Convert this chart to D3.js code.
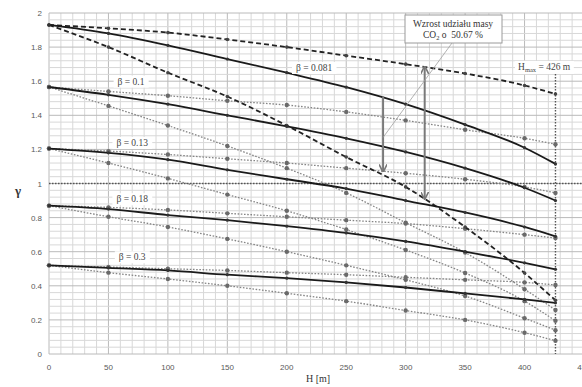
<!DOCTYPE html>
<html>
<head>
<meta charset="utf-8">
<script src="https://cdn.jsdelivr.net/npm/d3@7"></script>
<style>
  html, body { margin: 0; padding: 0; background: #fff; }
  svg { display: block; }
</style>
</head>
<body>
<svg id="chart" width="582" height="387"></svg>
<script>
// H [m] at which the values were read
const H = [0, 50, 100, 150, 200, 250, 300, 350, 400, 426];

// beta = 0.081
const b081Upper = [1.93, 1.91, 1.885, 1.845, 1.80, 1.75, 1.70, 1.645, 1.575, 1.525];
const b081 = [1.93, 1.88, 1.81, 1.73, 1.65, 1.565, 1.465, 1.345, 1.21, 1.115];
const b081Lower = [1.93, 1.80, 1.65, 1.51, 1.34, 1.155, 0.98, 0.745, 0.475, 0.315];
// beta = 0.1
const b010Upper = [1.566, 1.54, 1.515, 1.485, 1.46, 1.42, 1.37, 1.315, 1.265, 1.23];
const b010 = [1.566, 1.52, 1.465, 1.40, 1.335, 1.265, 1.185, 1.09, 0.975, 0.90];
const b010Lower = [1.566, 1.455, 1.34, 1.22, 1.09, 0.945, 0.77, 0.595, 0.38, 0.258];
// beta = 0.13
const b013Upper = [1.205, 1.19, 1.17, 1.145, 1.12, 1.09, 1.06, 1.025, 0.98, 0.945];
const b013 = [1.205, 1.18, 1.14, 1.08, 1.025, 0.97, 0.90, 0.83, 0.745, 0.69];
const b013Lower = [1.205, 1.12, 1.03, 0.935, 0.84, 0.73, 0.61, 0.475, 0.31, 0.195];
// beta = 0.18
const b018Upper = [0.87, 0.86, 0.845, 0.825, 0.805, 0.785, 0.765, 0.735, 0.70, 0.68];
const b018 = [0.87, 0.85, 0.815, 0.785, 0.75, 0.71, 0.66, 0.60, 0.535, 0.497];
const b018Lower = [0.87, 0.805, 0.745, 0.675, 0.60, 0.52, 0.435, 0.34, 0.21, 0.14];
// beta = 0.3
const b030Upper = [0.52, 0.51, 0.50, 0.49, 0.477, 0.465, 0.45, 0.435, 0.42, 0.405];
const b030 = [0.52, 0.505, 0.49, 0.465, 0.445, 0.42, 0.39, 0.355, 0.32, 0.30];
const b030Lower = [0.52, 0.477, 0.44, 0.40, 0.356, 0.31, 0.255, 0.20, 0.125, 0.078];

const xTicks = [0, 50, 100, 150, 200, 250, 300, 350, 400, 450];
const yTicks = [0, 0.2, 0.4, 0.6, 0.8, 1, 1.2, 1.4, 1.6, 1.8, 2];

const betaLabels = [
  { text: "β = 0.081", h: 223, g: 1.66 },
  { text: "β = 0.1", h: 69, g: 1.58 },
  { text: "β = 0.13", h: 70, g: 1.22 },
  { text: "β = 0.18", h: 70, g: 0.89 },
  { text: "β = 0.3", h: 70, g: 0.55 }
];

const H_MAX = 426;
const arrows = [
  { h: 281, from: 1.51, to: 1.07, both: false },
  { h: 316, from: 0.91, to: 1.685, both: true }
];
const note = ["Wzrost udziału masy", "CO", "2", " o\u00a0\u00a050.67 %"];

const series = [
  { v: b010Upper, kind: "dot" }, { v: b010Lower, kind: "dot" },
  { v: b013Upper, kind: "dot" }, { v: b013Lower, kind: "dot" },
  { v: b018Upper, kind: "dot" }, { v: b018Lower, kind: "dot" },
  { v: b030Upper, kind: "dot" }, { v: b030Lower, kind: "dot" },
  { v: b081Upper, kind: "dash" }, { v: b081Lower, kind: "dash" },
  { v: b081, kind: "solid" }, { v: b010, kind: "solid" },
  { v: b013, kind: "solid" }, { v: b018, kind: "solid" },
  { v: b030, kind: "solid" }
];

const SERIF = "'Liberation Serif','DejaVu Serif',serif";
const SANS = "'Liberation Sans','DejaVu Sans',sans-serif";

const svg = d3.select("#chart");
const x = d3.scaleLinear().domain([0, 450]).range([49, 584]);
const y = d3.scaleLinear().domain([0, 2]).range([354, 13]);

// grid
const grid = svg.append("g");
grid.selectAll("line.vmin").data(d3.range(0, 451, 10)).enter().append("line")
  .attr("x1", d => x(d)).attr("x2", d => x(d)).attr("y1", y(0)).attr("y2", y(2))
  .attr("stroke", d => d % 50 === 0 ? "#bababa" : "#d8d8d8").attr("stroke-width", 1);
grid.selectAll("line.hmin").data(d3.range(0, 51).map(i => i * 0.04)).enter().append("line")
  .attr("x1", x(0)).attr("x2", x(450)).attr("y1", d => y(d)).attr("y2", d => y(d))
  .attr("stroke", (d, i) => i % 5 === 0 ? "#bababa" : "#d8d8d8").attr("stroke-width", 1);

// tick labels
svg.append("g").selectAll("text").data(xTicks).enter().append("text")
  .attr("x", d => x(d)).attr("y", 370).attr("text-anchor", "middle")
  .attr("font-family", SANS).attr("font-size", 8).attr("fill", "#595959")
  .text(d => d);
svg.append("g").selectAll("text").data(yTicks).enter().append("text")
  .attr("x", 42).attr("y", d => y(d) + 3).attr("text-anchor", "end")
  .attr("font-family", SANS).attr("font-size", 8).attr("fill", "#595959")
  .text(d => d);

svg.append("text").attr("x", 18).attr("y", 195).attr("text-anchor", "middle")
  .attr("font-family", SERIF).attr("font-size", 13).attr("font-weight", "bold")
  .attr("fill", "#333").text("γ");
svg.append("text").attr("x", 318).attr("y", 382).attr("text-anchor", "middle")
  .attr("font-family", SERIF).attr("font-size", 10).attr("fill", "#333").text("H [m]");

// gamma = 1 and H max
svg.append("line").attr("x1", x(0)).attr("x2", x(450)).attr("y1", y(1)).attr("y2", y(1))
  .attr("stroke", "#555").attr("stroke-width", 1.4).attr("stroke-dasharray", "1.5,1.5");
svg.append("line").attr("x1", x(H_MAX)).attr("x2", x(H_MAX)).attr("y1", 74).attr("y2", y(0))
  .attr("stroke", "#555").attr("stroke-width", 1.4).attr("stroke-dasharray", "1.5,1.5");

// curves
const line = d3.line().x((d, i) => x(H[i])).y(d => y(d)).curve(d3.curveMonotoneX);
const STYLE = {
  dot: { stroke: "#858585", width: 1.3, dash: "1.6,1.6", r: 2.2, fill: "#6a6a6a" },
  dash: { stroke: "#222", width: 1.8, dash: "5,3", r: 1.8, fill: "#444" },
  solid: { stroke: "#1a1a1a", width: 1.8, dash: null, r: 1.6, fill: "#333" }
};
series.forEach(s => {
  const st = STYLE[s.kind];
  svg.append("path").datum(s.v).attr("d", line).attr("fill", "none")
    .attr("stroke", st.stroke).attr("stroke-width", st.width)
    .attr("stroke-dasharray", st.dash);
  svg.append("g").selectAll("circle").data(s.v).enter().append("circle")
    .attr("cx", (d, i) => x(H[i])).attr("cy", d => y(d)).attr("r", st.r)
    .attr("fill", st.fill);
});

// beta labels
betaLabels.forEach(b => {
  const t = svg.append("text").attr("x", x(b.h)).attr("y", y(b.g)).attr("text-anchor", "middle")
    .attr("font-family", SERIF).attr("font-size", 9.5).attr("fill", "#444").text(b.text);
  const bb = t.node().getBBox();
  svg.insert("rect", () => t.node()).attr("x", bb.x - 4).attr("y", bb.y - 1)
    .attr("width", bb.width + 8).attr("height", bb.height + 2).attr("fill", "#fff");
});

// H max label
const hm = svg.append("text").attr("x", 518).attr("y", 70).attr("font-family", SERIF)
  .attr("font-size", 9.5).attr("fill", "#444");
hm.append("tspan").text("H");
hm.append("tspan").attr("font-size", 6.5).attr("dy", 2).text("max");
hm.append("tspan").attr("dy", -2).text(" = 426 m");
const hb = hm.node().getBBox();
svg.insert("rect", () => hm.node()).attr("x", hb.x - 3).attr("y", hb.y - 1)
  .attr("width", hb.width + 6).attr("height", hb.height + 2).attr("fill", "#fff");

// arrows
const defs = svg.append("defs");
defs.append("marker").attr("id", "ah").attr("viewBox", "0 -5 10 10")
  .attr("refX", 9).attr("refY", 0).attr("markerWidth", 4).attr("markerHeight", 4)
  .attr("orient", "auto-start-reverse")
  .append("path").attr("d", "M0,-5L10,0L0,5").attr("fill", "none")
  .attr("stroke", "#777").attr("stroke-width", 2);
arrows.forEach(a => {
  svg.append("line").attr("x1", x(a.h)).attr("x2", x(a.h))
    .attr("y1", y(a.from)).attr("y2", y(a.to))
    .attr("stroke", "#7a7a7a").attr("stroke-width", 2)
    .attr("marker-end", "url(#ah)")
    .attr("marker-start", a.both ? "url(#ah)" : null);
});

// callout
svg.append("line").attr("x1", x(281)).attr("y1", y(1.27)).attr("x2", 452).attr("y2", 43)
  .attr("stroke", "#a0a0a0").attr("stroke-width", 0.8);
svg.append("rect").attr("x", 405).attr("y", 15).attr("width", 97).attr("height", 28)
  .attr("fill", "#fff").attr("stroke", "#9a9a9a").attr("stroke-width", 1);
svg.append("text").attr("x", 453).attr("y", 27).attr("text-anchor", "middle")
  .attr("font-family", SERIF).attr("font-size", 9.5).attr("fill", "#333").text(note[0]);
const n2 = svg.append("text").attr("x", 453).attr("y", 38).attr("text-anchor", "middle")
  .attr("font-family", SERIF).attr("font-size", 9.5).attr("fill", "#333");
n2.append("tspan").text(note[1]);
n2.append("tspan").attr("font-size", 6.5).attr("dy", 2).text(note[2]);
n2.append("tspan").attr("dy", -2).text(note[3]);
</script>
</body>
</html>
